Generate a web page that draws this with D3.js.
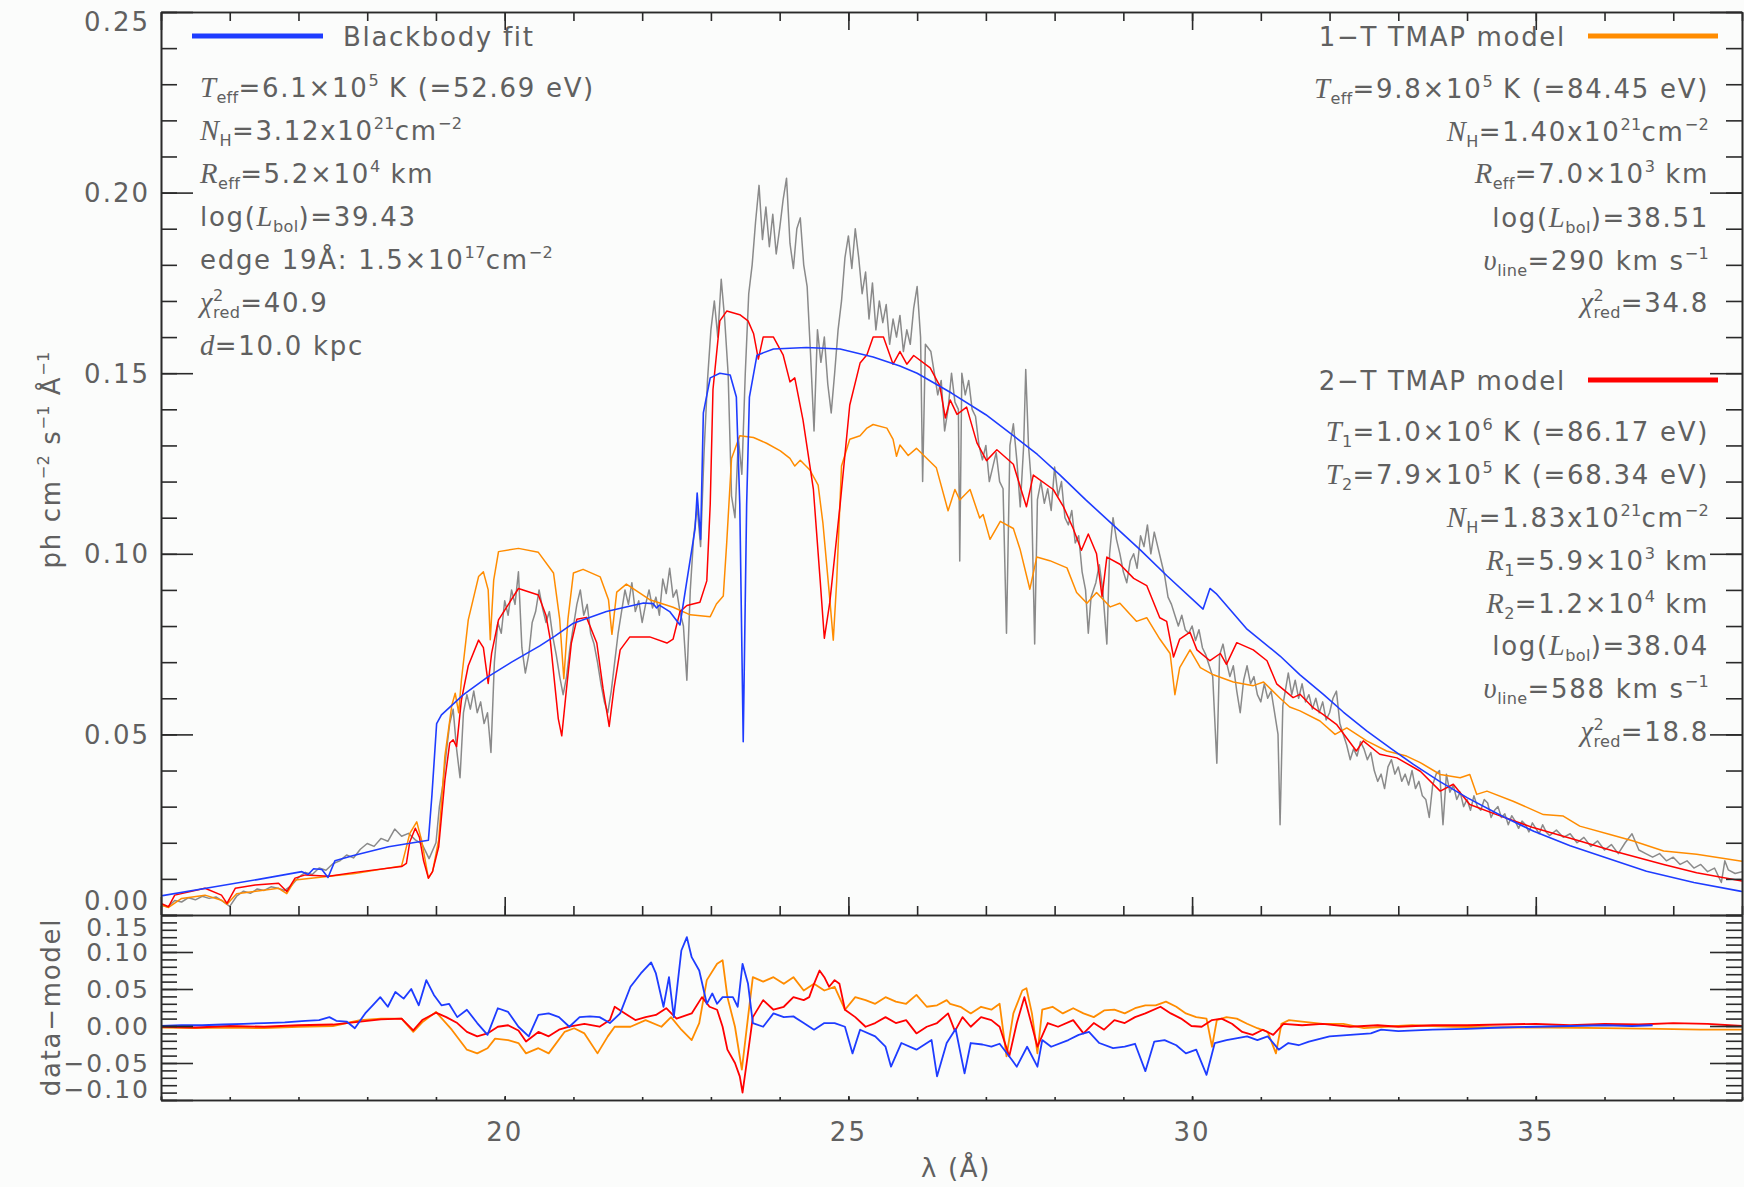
<!DOCTYPE html>
<html>
<head>
<meta charset="utf-8">
<script src="https://cdn.jsdelivr.net/npm/d3@7"></script>
<style>
  body { margin: 0; background: #fbfcfb; }
  svg { display: block; }
</style>
</head>
<body>
<div id="chart"></div>
<script>
// observed spectrum [lambda (A), flux]
const obsSpectrum = [
  [15.0,0.0028],[15.1,0.0022],[15.2,0.0040],[15.3,0.0036],[15.4,0.0048],[15.5,0.0042],[15.6,0.0052],[15.7,0.0046],
  [15.8,0.0050],[15.9,0.0038],[16.0,0.0024],[16.1,0.0052],[16.2,0.0066],[16.3,0.0060],[16.4,0.0072],[16.5,0.0068],
  [16.6,0.0078],[16.7,0.0074],[16.8,0.0068],[16.9,0.0082],[17.0,0.0104],[17.1,0.0118],[17.2,0.0112],[17.3,0.0130],
  [17.4,0.0124],[17.5,0.0142],[17.6,0.0150],[17.7,0.0166],[17.8,0.0158],[17.9,0.0182],[18.0,0.0198],[18.1,0.0190],
  [18.2,0.0212],[18.3,0.0204],[18.4,0.0238],[18.5,0.0218],[18.6,0.0226],[18.7,0.0208],[18.8,0.0196],[18.9,0.0156],
  [19.00,0.0200],[19.05,0.0300],[19.10,0.0360],[19.15,0.0450],[19.20,0.0530],[19.25,0.0570],[19.30,0.0460],[19.35,0.0380],
  [19.40,0.0560],[19.45,0.0610],[19.50,0.0570],[19.55,0.0620],[19.60,0.0560],[19.65,0.0590],[19.70,0.0530],[19.75,0.0560],
  [19.80,0.0450],[19.85,0.0700],[19.90,0.0810],[19.95,0.0780],[20.00,0.0870],[20.05,0.0830],[20.10,0.0900],[20.15,0.0860],
  [20.20,0.0950],[20.25,0.0740],[20.30,0.0670],[20.35,0.0720],[20.40,0.0810],[20.45,0.0840],[20.50,0.0900],[20.55,0.0850],
  [20.60,0.0810],[20.65,0.0840],[20.70,0.0770],[20.75,0.0720],[20.80,0.0660],[20.85,0.0610],[20.90,0.0660],[20.95,0.0740],
  [21.00,0.0800],[21.05,0.0860],[21.10,0.0900],[21.15,0.0830],[21.20,0.0860],[21.25,0.0780],[21.30,0.0750],[21.35,0.0700],
  [21.40,0.0640],[21.45,0.0590],[21.50,0.0560],[21.55,0.0620],[21.60,0.0700],[21.65,0.0780],[21.70,0.0840],[21.75,0.0900],
  [21.80,0.0860],[21.85,0.0920],[21.90,0.0840],[21.95,0.0870],[22.00,0.0810],[22.05,0.0860],[22.10,0.0900],[22.15,0.0850],
  [22.20,0.0880],[22.25,0.0830],[22.30,0.0930],[22.35,0.0890],[22.40,0.0960],[22.45,0.0880],[22.50,0.0900],[22.55,0.0840],
  [22.60,0.0800],[22.65,0.0650],[22.70,0.0900],[22.75,0.1050],[22.80,0.1130],[22.85,0.1020],[22.90,0.1280],[22.95,0.1480],
  [23.00,0.1620],[23.05,0.1700],[23.10,0.1600],[23.15,0.1760],[23.20,0.1650],[23.25,0.1500],[23.30,0.1160],[23.35,0.1100],
  [23.40,0.1320],[23.45,0.1220],[23.50,0.1500],[23.55,0.1720],[23.60,0.1800],[23.65,0.1920],[23.70,0.2020],[23.75,0.1870],
  [23.80,0.1960],[23.85,0.1850],[23.90,0.1940],[23.95,0.1830],[24.00,0.1900],[24.05,0.1980],[24.10,0.2040],[24.15,0.1860],
  [24.20,0.1790],[24.25,0.1900],[24.30,0.1930],[24.35,0.1800],[24.40,0.1740],[24.45,0.1550],[24.50,0.1340],[24.55,0.1620],
  [24.60,0.1530],[24.65,0.1600],[24.70,0.1470],[24.75,0.1390],[24.80,0.1500],[24.85,0.1620],[24.90,0.1700],[24.95,0.1820],
  [25.00,0.1880],[25.05,0.1790],[25.10,0.1900],[25.15,0.1820],[25.20,0.1720],[25.25,0.1780],[25.30,0.1650],[25.35,0.1750],
  [25.40,0.1620],[25.45,0.1700],[25.50,0.1640],[25.55,0.1690],[25.60,0.1580],[25.65,0.1650],[25.70,0.1600],[25.75,0.1660],
  [25.80,0.1560],[25.85,0.1620],[25.90,0.1580],[25.95,0.1680],[26.00,0.1740],[26.05,0.1600],[26.08,0.1200],[26.12,0.1580],
  [26.20,0.1560],[26.25,0.1500],[26.30,0.1440],[26.35,0.1480],[26.40,0.1340],[26.45,0.1400],[26.50,0.1500],[26.55,0.1420],
  [26.60,0.1400],[26.62,0.0980],[26.65,0.1500],[26.70,0.1440],[26.75,0.1480],[26.80,0.1400],[26.85,0.1380],[26.90,0.1300],
  [26.95,0.1260],[27.00,0.1300],[27.05,0.1200],[27.10,0.1240],[27.15,0.1280],[27.20,0.1200],[27.25,0.1180],[27.30,0.0780],
  [27.35,0.1300],[27.40,0.1360],[27.45,0.1260],[27.50,0.1130],[27.55,0.1300],[27.58,0.1510],[27.62,0.1300],[27.66,0.1200],
  [27.71,0.0750],[27.75,0.1150],[27.80,0.1200],[27.85,0.1140],[27.90,0.1180],[27.95,0.1120],[28.00,0.1240],[28.05,0.1160],
  [28.10,0.1200],[28.15,0.1100],[28.20,0.1080],[28.25,0.1120],[28.30,0.1030],[28.35,0.1050],[28.40,0.0950],[28.45,0.0900],
  [28.49,0.0780],[28.53,0.0880],[28.60,0.0920],[28.65,0.0970],[28.70,0.0900],[28.76,0.0750],[28.80,0.1000],[28.85,0.1100],
  [28.90,0.1040],[28.95,0.1000],[29.00,0.0950],[29.05,0.0920],[29.10,0.0980],[29.15,0.1000],[29.20,0.0960],[29.25,0.1050],
  [29.30,0.1020],[29.35,0.1080],[29.40,0.1000],[29.45,0.1060],[29.50,0.1020],[29.55,0.0980],[29.60,0.0940],[29.65,0.0880],
  [29.70,0.0860],[29.75,0.0830],[29.80,0.0800],[29.85,0.0830],[29.90,0.0790],[29.95,0.0780],[30.00,0.0800],[30.05,0.0760],
  [30.10,0.0790],[30.15,0.0740],[30.20,0.0720],[30.25,0.0690],[30.30,0.0660],[30.36,0.0420],[30.40,0.0720],[30.45,0.0750],
  [30.50,0.0700],[30.55,0.0660],[30.60,0.0690],[30.65,0.0620],[30.70,0.0560],[30.75,0.0650],[30.80,0.0690],[30.85,0.0640],
  [30.90,0.0660],[30.95,0.0610],[31.00,0.0590],[31.05,0.0640],[31.10,0.0600],[31.15,0.0620],[31.20,0.0560],[31.25,0.0500],
  [31.28,0.0250],[31.32,0.0580],[31.40,0.0670],[31.45,0.0610],[31.50,0.0650],[31.55,0.0600],[31.60,0.0640],[31.65,0.0590],
  [31.70,0.0610],[31.75,0.0570],[31.80,0.0600],[31.85,0.0560],[31.90,0.0590],[31.95,0.0540],[32.00,0.0560],[32.05,0.0600],
  [32.10,0.0620],[32.15,0.0530],[32.20,0.0500],[32.25,0.0470],[32.3,0.0430],[32.35,0.0460],[32.4,0.0440],[32.45,0.0480],
  [32.5,0.0460],[32.55,0.0430],[32.6,0.0450],[32.65,0.0400],[32.7,0.0370],[32.75,0.0390],[32.8,0.0350],[32.85,0.0410],
  [32.9,0.0430],[32.95,0.0390],[33.0,0.0410],[33.05,0.0370],[33.1,0.0390],[33.15,0.0360],[33.2,0.0400],[33.25,0.0350],
  [33.3,0.0370],[33.35,0.0330],[33.4,0.0320],[33.45,0.0270],[33.5,0.0360],[33.55,0.0390],[33.6,0.0400],[33.65,0.0250],
  [33.7,0.0390],[33.75,0.0340],[33.8,0.0360],[33.85,0.0320],[33.9,0.0340],[33.95,0.0300],[34.0,0.0320],[34.05,0.0290],
  [34.1,0.0330],[34.15,0.0300],[34.2,0.0290],[34.25,0.0320],[34.3,0.0310],[34.35,0.0270],[34.4,0.0290],[34.45,0.0300],
  [34.5,0.0270],[34.55,0.0280],[34.6,0.0250],[34.65,0.0275],[34.7,0.0260],[34.75,0.0240],[34.8,0.0260],[34.85,0.0250],
  [34.9,0.0230],[34.95,0.0255],[35.0,0.0240],[35.05,0.0225],[35.1,0.0250],[35.15,0.0230],[35.2,0.0220],[35.3,0.0235],
  [35.4,0.0215],[35.5,0.0225],[35.6,0.0200],[35.7,0.0215],[35.8,0.0190],[35.9,0.0205],[36.0,0.0180],[36.1,0.0195],
  [36.2,0.0170],[36.3,0.0200],[36.4,0.0225],[36.5,0.0180],[36.6,0.0170],[36.7,0.0160],[36.8,0.0170],[36.9,0.0150],
  [37.0,0.0160],[37.1,0.0140],[37.2,0.0150],[37.3,0.0130],[37.4,0.0140],[37.5,0.0120],[37.6,0.0130],[37.7,0.0090],
  [37.75,0.0150],[37.8,0.0125],[37.9,0.0115],[38.0,0.0120]
];

// blackbody fit
const bbModel = [
  [15.0,0.0053],[15.74,0.0077],[16.4,0.0098],[17.05,0.0120],[17.14,0.0112],[17.22,0.0128],[17.34,0.0126],[17.43,0.0104],
  [17.53,0.0150],[17.8,0.0165],[18.31,0.0189],[18.6,0.0198],[18.89,0.0207],[18.94,0.0328],[19.01,0.0530],[19.08,0.0554],
  [19.4,0.0610],[19.76,0.0660],[20.1,0.0700],[20.51,0.0745],[20.73,0.0772],[21.0,0.0808],[21.48,0.0840],[22.02,0.0864],
  [22.16,0.0862],[22.21,0.0850],[22.25,0.0858],[22.4,0.0840],[22.55,0.0803],[22.65,0.0925],[22.77,0.1070],[22.8,0.1168],
  [22.85,0.1040],[22.89,0.1390],[22.99,0.1487],[23.13,0.1500],[23.28,0.1495],[23.37,0.1434],[23.42,0.1138],[23.47,0.0480],
  [23.52,0.1138],[23.56,0.1434],[23.67,0.1550],[23.91,0.1567],[24.39,0.1571],[24.88,0.1567],[25.36,0.1545],[25.75,0.1520],
  [26.0,0.1500],[26.5,0.1445],[27.0,0.1385],[27.4,0.1327],[27.75,0.1275],[28.08,0.1218],[28.45,0.1150],[28.85,0.1080],
  [29.25,0.1010],[29.63,0.0940],[30.16,0.0847],[30.26,0.0904],[30.35,0.0890],[30.79,0.0793],[31.28,0.0717],[31.57,0.0665],
  [31.91,0.0611],[32.2,0.0562],[32.54,0.0510],[32.9,0.0460],[33.22,0.0417],[33.6,0.0370],[34.0,0.0325],[34.5,0.0275],
  [34.97,0.0232],[35.5,0.0192],[36.0,0.0160],[36.61,0.0121],[37.3,0.0090],[37.97,0.0066],[38.0,0.0065]
];

// 1-T TMAP model
const tmap1Model = [
  [15.0,0.0028],[15.11,0.0021],[15.3,0.0046],[15.64,0.0055],[15.88,0.0041],[15.96,0.0030],[16.1,0.0059],[16.71,0.0074],
  [16.83,0.0059],[16.95,0.0097],[17.82,0.0115],[18.5,0.0136],[18.62,0.0226],[18.72,0.0258],[18.79,0.0208],[18.89,0.0102],
  [18.95,0.0120],[19.04,0.0208],[19.13,0.0440],[19.23,0.0580],[19.28,0.0614],[19.33,0.0560],[19.37,0.0650],[19.47,0.0817],
  [19.62,0.0937],[19.69,0.0950],[19.76,0.0900],[19.79,0.0762],[19.84,0.0927],[19.91,0.1006],[20.2,0.1015],[20.49,0.1004],
  [20.71,0.0947],[20.8,0.0819],[20.86,0.0654],[20.92,0.0819],[21.0,0.0947],[21.14,0.0957],[21.39,0.0936],[21.51,0.0873],
  [21.56,0.0777],[21.63,0.0894],[21.77,0.0916],[22.11,0.0873],[22.45,0.0852],[22.7,0.0831],[22.99,0.0826],[23.08,0.0861],
  [23.18,0.0883],[23.23,0.1031],[23.3,0.1264],[23.42,0.1327],[23.62,0.1322],[23.81,0.1306],[24.01,0.1285],[24.15,0.1264],
  [24.22,0.1243],[24.3,0.1259],[24.44,0.1232],[24.56,0.1190],[24.63,0.1084],[24.73,0.0873],[24.78,0.0761],[24.83,0.0925],
  [24.9,0.1243],[25.02,0.1317],[25.17,0.1327],[25.27,0.1348],[25.36,0.1358],[25.56,0.1348],[25.65,0.1317],[25.7,0.1270],
  [25.75,0.1301],[25.87,0.1272],[25.99,0.1292],[26.28,0.1238],[26.45,0.1119],[26.55,0.1178],[26.62,0.1149],[26.77,0.1178],
  [26.91,0.1099],[26.96,0.1109],[27.06,0.1040],[27.21,0.1090],[27.4,0.1070],[27.5,0.1011],[27.64,0.0902],[27.74,0.0991],
  [27.93,0.0981],[28.18,0.0961],[28.32,0.0893],[28.47,0.0863],[28.61,0.0893],[28.81,0.0853],[28.95,0.0863],[29.19,0.0813],
  [29.34,0.0823],[29.53,0.0764],[29.68,0.0724],[29.75,0.0610],[29.82,0.0685],[29.97,0.0734],[30.12,0.0685],[30.31,0.0665],
  [30.6,0.0645],[30.89,0.0635],[31.04,0.0645],[31.28,0.0600],[31.42,0.0576],[31.57,0.0565],[31.86,0.0537],[32.08,0.0500],
  [32.25,0.0518],[32.54,0.0482],[32.83,0.0454],[33.12,0.0440],[33.32,0.0422],[33.61,0.0389],[33.9,0.0380],[34.04,0.0389],
  [34.14,0.0334],[34.29,0.0343],[34.67,0.0315],[35.11,0.0278],[35.4,0.0274],[35.64,0.0246],[36.08,0.0223],[36.42,0.0205],
  [36.86,0.0177],[37.34,0.0168],[38.0,0.0149]
];

// 2-T TMAP model
const tmap2Model = [
  [15.0,0.0032],[15.11,0.0023],[15.2,0.0055],[15.64,0.0074],[15.88,0.0055],[15.96,0.0032],[16.08,0.0074],[16.37,0.0083],
  [16.71,0.0088],[16.83,0.0065],[16.95,0.0102],[17.1,0.0111],[17.44,0.0107],[17.82,0.0118],[18.5,0.0134],[18.57,0.0143],
  [18.62,0.0203],[18.7,0.0240],[18.76,0.0215],[18.82,0.0150],[18.89,0.0102],[18.95,0.0120],[19.04,0.0189],[19.13,0.0374],
  [19.2,0.0476],[19.25,0.0485],[19.3,0.0466],[19.37,0.0595],[19.47,0.0690],[19.62,0.0761],[19.69,0.0740],[19.76,0.0641],
  [19.81,0.0725],[19.91,0.0817],[20.2,0.0904],[20.49,0.0886],[20.6,0.0830],[20.66,0.0766],[20.78,0.0543],[20.83,0.0496],
  [20.9,0.0628],[20.97,0.0753],[21.05,0.0819],[21.19,0.0824],[21.34,0.0753],[21.43,0.0628],[21.52,0.0522],[21.59,0.0628],
  [21.68,0.0734],[21.82,0.0770],[22.11,0.0770],[22.36,0.0753],[22.45,0.0764],[22.55,0.0840],[22.65,0.0857],[22.84,0.0866],
  [22.94,0.0925],[22.99,0.1137],[23.03,0.1455],[23.13,0.1645],[23.23,0.1672],[23.42,0.1662],[23.54,0.1645],[23.62,0.1610],
  [23.69,0.1539],[23.76,0.1600],[23.91,0.1600],[24.05,0.1551],[24.15,0.1476],[24.22,0.1487],[24.34,0.1370],[24.49,0.1180],
  [24.59,0.0925],[24.65,0.0766],[24.73,0.0866],[24.88,0.1137],[25.02,0.1412],[25.17,0.1528],[25.27,0.1551],[25.36,0.1600],
  [25.51,0.1600],[25.65,0.1525],[25.75,0.1560],[25.85,0.1525],[25.95,0.1549],[26.19,0.1515],[26.33,0.1465],[26.41,0.1376],
  [26.48,0.1426],[26.58,0.1386],[26.72,0.1406],[26.87,0.1307],[27.01,0.1258],[27.16,0.1288],[27.4,0.1248],[27.59,0.1130],
  [27.69,0.1218],[27.98,0.1178],[28.13,0.1130],[28.27,0.1070],[28.39,0.1010],[28.49,0.1055],[28.61,0.1000],[28.69,0.0882],
  [28.76,0.0991],[28.95,0.0971],[29.15,0.0932],[29.34,0.0912],[29.53,0.0823],[29.63,0.0813],[29.73,0.0714],[29.82,0.0764],
  [29.97,0.0783],[30.07,0.0734],[30.26,0.0704],[30.41,0.0724],[30.5,0.0694],[30.65,0.0754],[30.89,0.0734],[31.09,0.0704],
  [31.23,0.0640],[31.47,0.0602],[31.57,0.0611],[31.76,0.0574],[31.91,0.0555],[32.1,0.0528],[32.39,0.0454],[32.49,0.0482],
  [32.73,0.0445],[32.98,0.0435],[33.32,0.0398],[33.61,0.0343],[33.8,0.0362],[34.04,0.0306],[34.43,0.0278],[34.96,0.0242],
  [35.64,0.0205],[36.13,0.0177],[36.86,0.0140],[37.34,0.0117],[38.0,0.0094]
];

// residuals data-model
const resBB = [
  [15.0,0.000],[15.3,0.001],[15.6,0.001],[15.9,0.002],[16.2,0.003],[16.5,0.004],[16.8,0.005],[17.1,0.007],[17.3,0.008],
  [17.45,0.012],[17.55,0.007],[17.7,0.006],[17.82,-0.003],[17.97,0.017],[18.1,0.030],[18.19,0.039],[18.3,0.026],[18.41,0.046],
  [18.53,0.037],[18.64,0.050],[18.75,0.028],[18.86,0.062],[18.97,0.042],[19.08,0.028],[19.19,0.030],[19.31,0.012],[19.45,0.022],
  [19.6,0.004],[19.75,-0.012],[19.9,0.024],[20.05,0.019],[20.2,-0.001],[20.35,-0.014],[20.49,0.015],[20.64,0.017],[20.79,0.012],
  [20.94,-0.001],[21.09,0.012],[21.24,0.013],[21.38,0.012],[21.53,0.004],[21.68,0.017],[21.83,0.053],[21.98,0.071],[22.13,0.086],
  [22.2,0.071],[22.31,0.026],[22.39,0.066],[22.46,0.012],[22.57,0.102],[22.65,0.120],[22.72,0.093],[22.83,0.075],[22.94,0.030],
  [23.02,0.044],[23.09,0.030],[23.17,0.039],[23.32,0.039],[23.39,0.026],[23.46,0.084],[23.54,0.057],[23.61,0.004],[23.76,-0.001],
  [23.91,0.017],[24.06,0.012],[24.2,0.013],[24.35,0.004],[24.5,-0.005],[24.65,0.004],[24.8,0.004],[24.95,-0.001],[25.06,-0.037],
  [25.17,-0.005],[25.39,-0.014],[25.54,-0.028],[25.62,-0.055],[25.77,-0.023],[25.99,-0.032],[26.21,-0.019],[26.29,-0.068],
  [26.43,-0.023],[26.56,-0.004],[26.69,-0.064],[26.78,-0.023],[26.95,-0.025],[27.08,-0.028],[27.2,-0.024],[27.38,-0.046],
  [27.45,-0.055],[27.6,-0.028],[27.75,-0.055],[27.82,-0.019],[27.95,-0.028],[28.2,-0.019],[28.35,-0.012],[28.5,-0.008],
  [28.65,-0.023],[28.85,-0.030],[29.02,-0.028],[29.17,-0.024],[29.32,-0.061],[29.45,-0.021],[29.6,-0.019],[29.77,-0.026],
  [29.91,-0.037],[30.06,-0.032],[30.21,-0.066],[30.33,-0.023],[30.5,-0.019],[30.8,-0.014],[30.95,-0.019],[31.1,-0.014],
  [31.26,-0.032],[31.4,-0.023],[31.55,-0.026],[31.7,-0.021],[32.0,-0.014],[32.3,-0.012],[32.6,-0.010],[32.75,-0.005],
  [33.0,-0.007],[33.5,-0.005],[34.0,-0.004],[34.5,-0.002],[35.0,-0.001],[35.5,0.000],[36.0,0.001],[36.4,0.000],[36.7,0.001]
];
const res1T = [
  [15.0,-0.002],[15.5,-0.003],[16.0,-0.002],[16.5,-0.003],[17.0,-0.001],[17.5,0.000],[17.9,0.008],[18.2,0.010],[18.5,0.010],
  [18.67,-0.008],[18.8,0.005],[19.0,0.019],[19.23,-0.005],[19.45,-0.032],[19.6,-0.037],[19.75,-0.030],[19.86,-0.017],
  [20.05,-0.019],[20.2,-0.023],[20.31,-0.037],[20.49,-0.030],[20.64,-0.037],[20.87,-0.008],[21.01,-0.003],[21.16,-0.010],
  [21.35,-0.037],[21.5,-0.014],[21.6,-0.001],[21.83,-0.001],[22.05,0.008],[22.28,-0.001],[22.42,0.012],[22.57,-0.005],
  [22.72,-0.019],[22.83,0.004],[22.94,0.062],[23.09,0.084],[23.17,0.089],[23.24,0.039],[23.35,-0.001],[23.45,-0.059],
  [23.54,0.012],[23.61,0.066],[23.76,0.060],[23.91,0.066],[24.06,0.057],[24.2,0.066],[24.35,0.048],[24.5,0.057],[24.65,0.048],
  [24.8,0.053],[24.95,0.022],[25.1,0.039],[25.25,0.035],[25.39,0.030],[25.54,0.039],[25.69,0.033],[25.84,0.030],[25.99,0.042],
  [26.14,0.026],[26.29,0.028],[26.43,0.035],[26.48,0.030],[26.63,0.026],[26.78,0.017],[26.93,0.026],[27.08,0.022],[27.2,0.030],
  [27.3,-0.041],[27.4,0.017],[27.53,0.048],[27.59,0.051],[27.67,0.017],[27.75,-0.037],[27.82,0.022],[27.97,0.026],[28.12,0.017],
  [28.27,0.024],[28.42,0.017],[28.57,0.012],[28.72,0.021],[28.87,0.022],[29.02,0.017],[29.17,0.024],[29.32,0.028],[29.47,0.028],
  [29.62,0.033],[29.77,0.026],[29.91,0.017],[30.06,0.012],[30.21,0.010],[30.29,-0.028],[30.36,0.008],[30.5,0.012],[30.65,0.010],
  [30.8,0.003],[30.95,-0.003],[31.1,-0.008],[31.22,-0.037],[31.3,0.003],[31.41,0.008],[31.6,0.006],[31.9,0.003],[32.2,0.003],
  [32.5,-0.003],[32.8,-0.001],[33.2,0.001],[33.8,-0.001],[34.5,-0.002],[35.2,-0.002],[36.0,-0.003],[36.8,-0.004],[37.4,-0.005],
  [38.0,-0.005]
];
const res2T = [
  [15.0,-0.001],[15.5,-0.002],[16.0,0.000],[16.5,-0.001],[17.0,0.001],[17.5,0.002],[17.9,0.006],[18.2,0.009],[18.5,0.010],
  [18.67,-0.006],[18.8,0.008],[19.0,0.018],[19.15,0.012],[19.31,0.004],[19.45,-0.008],[19.6,-0.014],[19.75,-0.010],[19.9,-0.001],
  [20.05,0.001],[20.2,-0.006],[20.31,-0.021],[20.49,-0.008],[20.64,-0.014],[20.79,-0.005],[20.94,-0.001],[21.16,0.003],
  [21.38,-0.001],[21.53,0.008],[21.6,0.026],[21.75,0.017],[21.9,0.008],[22.05,0.012],[22.2,0.015],[22.35,0.024],[22.5,0.010],
  [22.72,0.017],[22.87,0.039],[22.98,0.026],[23.09,0.022],[23.17,-0.001],[23.24,-0.032],[23.35,-0.050],[23.42,-0.068],
  [23.46,-0.090],[23.52,-0.050],[23.61,0.012],[23.76,0.035],[23.91,0.022],[24.06,0.026],[24.2,0.039],[24.35,0.035],[24.43,0.039],
  [24.5,0.057],[24.58,0.075],[24.65,0.066],[24.72,0.053],[24.8,0.062],[24.87,0.057],[24.95,0.022],[25.1,0.012],[25.25,-0.001],
  [25.39,0.004],[25.54,0.012],[25.69,0.004],[25.84,0.008],[25.99,-0.010],[26.14,-0.001],[26.29,0.004],[26.45,0.017],
  [26.55,-0.007],[26.66,0.012],[26.78,-0.001],[26.93,0.012],[27.08,0.008],[27.2,-0.001],[27.34,-0.041],[27.45,0.004],
  [27.56,0.039],[27.66,0.004],[27.75,-0.028],[27.9,0.004],[28.05,-0.001],[28.27,0.008],[28.42,-0.010],[28.57,0.004],
  [28.72,-0.005],[28.87,0.008],[29.02,0.004],[29.17,0.012],[29.32,0.017],[29.54,0.026],[29.69,0.017],[29.84,0.010],[29.99,0.000],
  [30.14,-0.001],[30.29,0.008],[30.43,0.010],[30.58,0.003],[30.73,-0.008],[30.88,-0.012],[31.03,-0.005],[31.18,-0.012],
  [31.33,0.003],[31.6,0.001],[31.9,0.003],[32.3,-0.001],[32.7,0.001],[33.0,-0.001],[33.5,0.001],[34.0,0.001],[34.5,0.002],
  [35.0,0.003],[35.5,0.001],[36.0,0.003],[36.5,0.002],[37.0,0.004],[37.5,0.003],[38.0,0.000]
];

// axis ticks
const xMajorTicks = [15, 20, 25, 30, 35];
const xTickLabels = [20, 25, 30, 35];
const fluxTickLabels = [0.00, 0.05, 0.10, 0.15, 0.20, 0.25];
const resTickMajor = [-0.10, -0.05, 0.00, 0.05, 0.10];
const resTickLabels = [-0.10, -0.05, 0.00, 0.05, 0.10, 0.15];

const W = 1744, H = 1187;
const SANS = "'DejaVu Sans', 'Liberation Sans', sans-serif";
const SERIF = "'Liberation Serif', 'Times New Roman', serif";
const TXT = "#606060";
const AX = "#2a2a2a";
const C_BB = "#1e3cff", C_1T = "#ff8c00", C_2T = "#ff0000", C_OBS = "#8a8a8a";

const plot = { left: 161, right: 1742, top: 12, mid: 915, bottom: 1100 };

const svg = d3.select("#chart").append("svg")
    .attr("width", W)
    .attr("height", H);

svg.append("rect").attr("width", W).attr("height", H).attr("fill", "#fbfcfb");

const x = d3.scaleLinear().domain([15, 38]).range([plot.left, plot.right]);
const y = d3.scaleLinear().domain([0, 0.25]).range([plot.mid, plot.top]);
const yr = d3.scaleLinear().domain([-0.10, 0.15]).range([plot.bottom, plot.mid]);

const defs = svg.append("defs");
defs.append("clipPath").attr("id", "clipMain").append("rect")
    .attr("x", plot.left).attr("y", plot.top).attr("width", plot.right - plot.left).attr("height", plot.mid - plot.top);
defs.append("clipPath").attr("id", "clipRes").append("rect")
    .attr("x", plot.left).attr("y", plot.mid).attr("width", plot.right - plot.left).attr("height", plot.bottom - plot.mid);

// spectra
const lineMain = d3.line().x(d => x(d[0])).y(d => y(d[1]));
const lineRes = d3.line().x(d => x(d[0])).y(d => yr(d[1]));

const gMain = svg.append("g").attr("clip-path", "url(#clipMain)");
[[obsSpectrum, C_OBS, 1.5], [tmap1Model, C_1T, 1.5], [tmap2Model, C_2T, 1.5], [bbModel, C_BB, 1.6]].forEach(([data, col, w]) => {
    gMain.append("path").datum(data)
        .attr("d", lineMain)
        .attr("fill", "none")
        .attr("stroke", col)
        .attr("stroke-width", w)
        .attr("stroke-linejoin", "round");
});

const gRes = svg.append("g").attr("clip-path", "url(#clipRes)");
[[res1T, C_1T], [res2T, C_2T], [resBB, C_BB]].forEach(([data, col]) => {
    gRes.append("path").datum(data)
        .attr("d", lineRes)
        .attr("fill", "none")
        .attr("stroke", col)
        .attr("stroke-width", 1.8)
        .attr("stroke-linejoin", "round");
});

// axes with inward ticks
function styleAxis(g) {
    g.selectAll("path, line").attr("stroke", AX).attr("stroke-width", 1.6);
    g.selectAll("text").remove();
}
function addAxis(axis, tx, ty) {
    svg.append("g").attr("transform", `translate(${tx},${ty})`).call(axis).call(styleAxis);
}
const xMinor = d3.range(15, 39);
const fluxMinor = d3.range(0, 26).map(i => i / 100);
const resMinor = d3.range(-10, 16).map(i => i / 100);

// main panel
addAxis(d3.axisLeft(y).tickValues(fluxTickLabels).tickSize(-32).tickSizeOuter(0), plot.left, 0);
addAxis(d3.axisLeft(y).tickValues(fluxMinor).tickSize(-16).tickSizeOuter(0), plot.left, 0);
addAxis(d3.axisRight(y).tickValues(fluxTickLabels).tickSize(-32).tickSizeOuter(0), plot.right, 0);
addAxis(d3.axisRight(y).tickValues(fluxMinor).tickSize(-16).tickSizeOuter(0), plot.right, 0);
addAxis(d3.axisTop(x).tickValues(xMajorTicks).tickSize(-18).tickSizeOuter(0), 0, plot.top);
addAxis(d3.axisTop(x).tickValues(xMinor).tickSize(-9).tickSizeOuter(0), 0, plot.top);
addAxis(d3.axisBottom(x).tickValues(xMajorTicks).tickSize(-18).tickSizeOuter(0), 0, plot.mid);
addAxis(d3.axisBottom(x).tickValues(xMinor).tickSize(-9).tickSizeOuter(0), 0, plot.mid);
// residual panel
addAxis(d3.axisLeft(yr).tickValues(resTickMajor).tickSize(-32).tickSizeOuter(0), plot.left, 0);
addAxis(d3.axisLeft(yr).tickValues(resMinor).tickSize(-16).tickSizeOuter(0), plot.left, 0);
addAxis(d3.axisRight(yr).tickValues(resTickMajor).tickSize(-32).tickSizeOuter(0), plot.right, 0);
addAxis(d3.axisRight(yr).tickValues(resMinor).tickSize(-16).tickSizeOuter(0), plot.right, 0);
addAxis(d3.axisBottom(x).tickValues(xMajorTicks).tickSize(-4).tickSizeOuter(0), 0, plot.bottom);
addAxis(d3.axisBottom(x).tickValues(xMinor).tickSize(-3).tickSizeOuter(0), 0, plot.bottom);

// tick labels
const fmt = d3.format(".2f");
function tickLabel(tx, ty, s, anchor, size) {
    svg.append("text")
        .attr("x", tx).attr("y", ty + size * 0.36)
        .attr("text-anchor", anchor)
        .attr("font-family", SANS).attr("font-size", size)
        .attr("letter-spacing", 2)
        .attr("fill", TXT)
        .text(s);
}
fluxTickLabels.forEach(v => {
    const ty = Math.min(Math.max(y(v), plot.top + 10), plot.mid - 14);
    tickLabel(150, ty, fmt(v), "end", 26);
});
resTickLabels.forEach(v => {
    const ty = Math.min(Math.max(yr(v), plot.mid + 12), plot.bottom - 11);
    tickLabel(150, ty, fmt(v).replace("-", "\u2212"), "end", 25);
});
xTickLabels.forEach(v => tickLabel(x(v), 1132, String(v), "middle", 26));

// rich text with sub/superscripts
function rich(parent, tx, ty, anchor, segs, size) {
    const t = parent.append("text")
        .attr("x", tx).attr("y", ty)
        .attr("text-anchor", anchor)
        .attr("font-family", SANS).attr("font-size", size)
        .attr("letter-spacing", 1.7)
        .attr("fill", TXT)
        .style("white-space", "pre");
    let cur = 0;
    segs.forEach(s => {
        if (typeof s === "string") s = { t: s };
        const off = s.sup ? -0.42 * size : s.sub ? 0.26 * size : 0;
        const ts = t.append("tspan").text(s.t).attr("dy", off - cur);
        cur = off;
        if (s.sup || s.sub) ts.attr("font-size", size * 0.62).attr("letter-spacing", 0.3);
        if (s.it) ts.attr("font-family", SERIF).attr("font-style", "italic").attr("font-size", size * 1.1).attr("letter-spacing", 0.5);
        if (s.dx) ts.attr("dx", s.dx);
    });
    return t;
}

const AS = 26;
const chi = (val) => [{ t: "\u03c7", it: true }, { t: "2", sup: true }, { t: "red", sub: true, dx: -AS * 0.62 * 0.66 }, "=" + val];

// axis titles
rich(svg.append("g").attr("transform", "translate(60,460) rotate(-90)"), 0, 0, "middle",
    ["ph cm", { t: "\u22122", sup: true }, " s", { t: "\u22121", sup: true }, " \u00c5", { t: "\u22121", sup: true }], AS);
rich(svg.append("g").attr("transform", "translate(60,1007) rotate(-90)"), 0, 0, "middle", ["data\u2212model"], AS);
rich(svg, 956, 1177, "middle", ["\u03bb (\u00c5)"], AS);

// blackbody legend and parameters
const gAnn = svg.append("g");
gAnn.append("line").attr("x1", 192).attr("x2", 323).attr("y1", 36).attr("y2", 36)
    .attr("stroke", C_BB).attr("stroke-width", 5);
rich(gAnn, 343, 45.5, "start", ["Blackbody fit"], AS);

const bbRows = [
    [{ t: "T", it: true }, { t: "eff", sub: true }, "=6.1\u00d710", { t: "5", sup: true }, " K (=52.69 eV)"],
    [{ t: "N", it: true }, { t: "H", sub: true }, "=3.12x10", { t: "21", sup: true }, "cm", { t: "\u22122", sup: true }],
    [{ t: "R", it: true }, { t: "eff", sub: true }, "=5.2\u00d710", { t: "4", sup: true }, " km"],
    ["log(", { t: "L", it: true }, { t: "bol", sub: true }, ")=39.43"],
    ["edge 19\u00c5: 1.5\u00d710", { t: "17", sup: true }, "cm", { t: "\u22122", sup: true }],
    chi("40.9"),
    [{ t: "d", it: true }, "=10.0 kpc"]
];
const bbRowY = [87, 130, 173, 216, 259, 302, 345];
bbRows.forEach((r, i) => rich(gAnn, 200, bbRowY[i] + 9.5, "start", r, AS));

// 1-T TMAP legend and parameters
gAnn.append("line").attr("x1", 1588).attr("x2", 1718).attr("y1", 36).attr("y2", 36)
    .attr("stroke", C_1T).attr("stroke-width", 5);
rich(gAnn, 1566, 45.5, "end", ["1\u2212T TMAP model"], AS);
const t1Rows = [
    [{ t: "T", it: true }, { t: "eff", sub: true }, "=9.8\u00d710", { t: "5", sup: true }, " K (=84.45 eV)"],
    [{ t: "N", it: true }, { t: "H", sub: true }, "=1.40x10", { t: "21", sup: true }, "cm", { t: "\u22122", sup: true }],
    [{ t: "R", it: true }, { t: "eff", sub: true }, "=7.0\u00d710", { t: "3", sup: true }, " km"],
    ["log(", { t: "L", it: true }, { t: "bol", sub: true }, ")=38.51"],
    [{ t: "\u03c5", it: true }, { t: "line", sub: true }, "=290 km s", { t: "\u22121", sup: true }],
    chi("34.8")
];
const t1RowY = [88, 131, 173, 217, 260, 302];
t1Rows.forEach((r, i) => rich(gAnn, 1709, t1RowY[i] + 9.5, "end", r, AS));

// 2-T TMAP legend and parameters
gAnn.append("line").attr("x1", 1588).attr("x2", 1718).attr("y1", 380).attr("y2", 380)
    .attr("stroke", C_2T).attr("stroke-width", 5);
rich(gAnn, 1566, 389.5, "end", ["2\u2212T TMAP model"], AS);
const t2Rows = [
    [{ t: "T", it: true }, { t: "1", sub: true }, "=1.0\u00d710", { t: "6", sup: true }, " K (=86.17 eV)"],
    [{ t: "T", it: true }, { t: "2", sub: true }, "=7.9\u00d710", { t: "5", sup: true }, " K (=68.34 eV)"],
    [{ t: "N", it: true }, { t: "H", sub: true }, "=1.83x10", { t: "21", sup: true }, "cm", { t: "\u22122", sup: true }],
    [{ t: "R", it: true }, { t: "1", sub: true }, "=5.9\u00d710", { t: "3", sup: true }, " km"],
    [{ t: "R", it: true }, { t: "2", sub: true }, "=1.2\u00d710", { t: "4", sup: true }, " km"],
    ["log(", { t: "L", it: true }, { t: "bol", sub: true }, ")=38.04"],
    [{ t: "\u03c5", it: true }, { t: "line", sub: true }, "=588 km s", { t: "\u22121", sup: true }],
    chi("18.8")
];
const t2RowY = [431, 474, 517, 560, 603, 645, 688, 731];
t2Rows.forEach((r, i) => rich(gAnn, 1709, t2RowY[i] + 9.5, "end", r, AS));
</script>
</body>
</html>
